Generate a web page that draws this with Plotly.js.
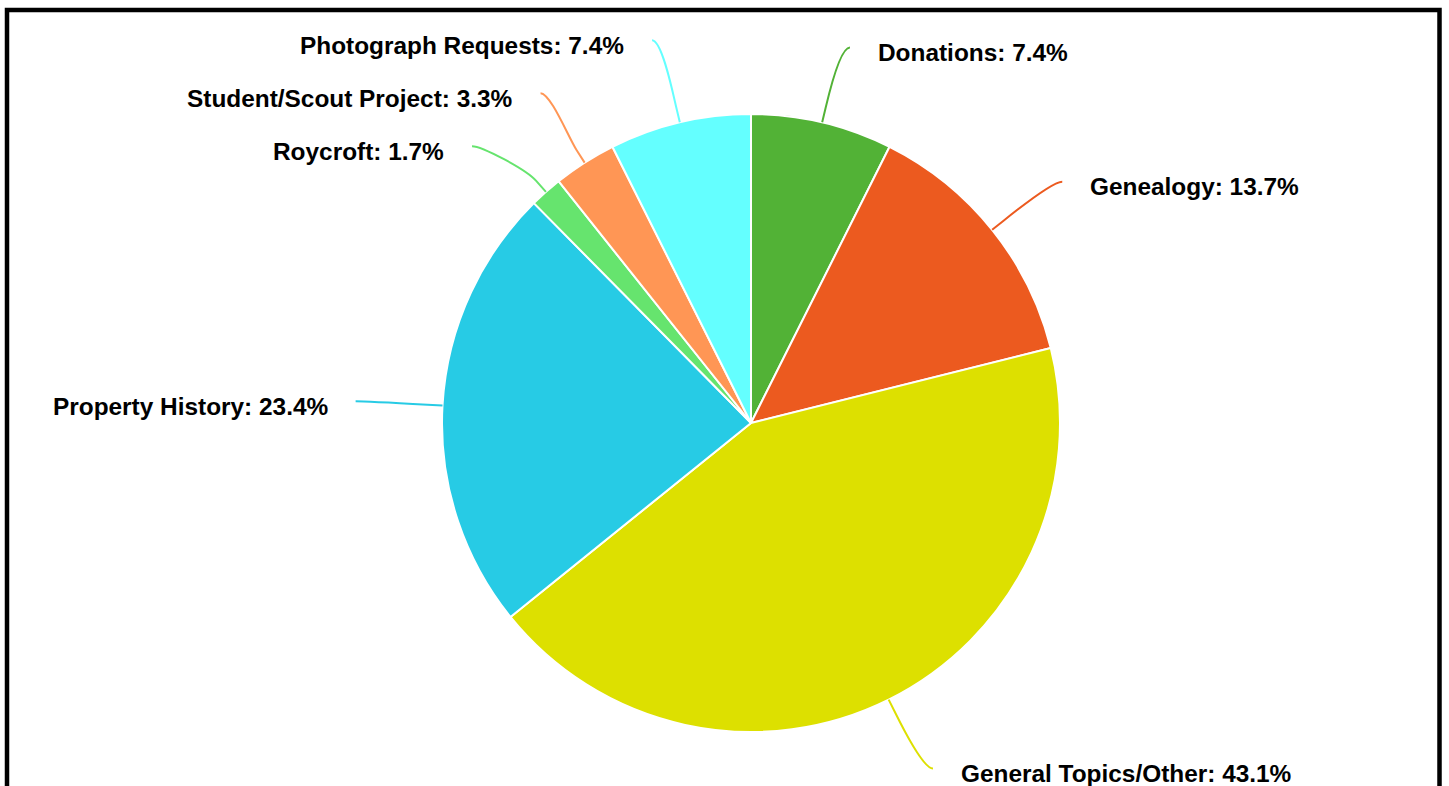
<!DOCTYPE html>
<html>
<head>
<meta charset="utf-8">
<script src="https://cdn.plot.ly/plotly-3.0.1.min.js"></script>
<style>
  html, body { margin: 0; padding: 0; background: #ffffff; }
  #chart { width: 1449px; height: 786px; }
</style>
</head>
<body>
<div id="chart"></div>
<script>
// ---- Data ----
const categories = ["Donations", "Genealogy", "General Topics/Other", "Property History", "Roycroft", "Student/Scout Project", "Photograph Requests"];
const shares = [7.4, 13.7, 43.1, 23.4, 1.7, 3.3, 7.4];
const sliceColors = ["#52b236", "#ec5a1f", "#dde000", "#27cbe5", "#66e46e", "#ff9655", "#64ffff"];

// ---- Layout geometry (pixels) ----
const W = 1449, H = 786;
const CX = 751, CY = 423, R = 309;       // pie centre and radius
const LR = 386;                           // label anchor radius
const BREAK = R + 15;                     // connector break radius
const PAD = 10, GAP = 26, SPACING = 53;   // label spacing rules
const FONT = 'Liberation Sans, Arial, Helvetica, sans-serif';

// mid angles (clockwise from 12 o'clock), computed from the data
const total = shares.reduce((a, b) => a + b, 0);
let cum = 0;
const items = shares.map((v, i) => {
  const a0 = cum / total * 2 * Math.PI;
  cum += v;
  const a1 = cum / total * 2 * Math.PI;
  const mid = (a0 + a1) / 2;
  const s = Math.sin(mid), c = Math.cos(mid);
  return {
    i, mid, s, c,
    right: s >= 0,
    natural: CY - LR * c,
    touch: [CX + R * s, CY - R * c],
    brk: [CX + BREAK * s, CY - BREAK * c]
  };
});

// distribute labels on each side so they do not overlap
function distribute(list) {
  list.sort((a, b) => a.natural - b.natural);
  let groups = [];
  list.forEach(it => {
    groups.push({ items: [it] });
    while (groups.length > 1) {
      const g = groups[groups.length - 1], p = groups[groups.length - 2];
      const place = gr => {
        const m = gr.items.reduce((a, b) => a + b.natural, 0) / gr.items.length;
        return m - (gr.items.length - 1) * SPACING / 2;
      };
      const ps = place(p), gs = place(g);
      if (ps + p.items.length * SPACING > gs) {
        p.items = p.items.concat(g.items);
        groups.pop();
      } else break;
    }
  });
  groups.forEach(gr => {
    const m = gr.items.reduce((a, b) => a + b.natural, 0) / gr.items.length;
    const start = m - (gr.items.length - 1) * SPACING / 2;
    gr.items.forEach((it, k) => { it.y = start + k * SPACING; });
  });
}
distribute(items.filter(d => d.right));
distribute(items.filter(d => !d.right));

const shapes = [];
const annotations = [];
items.forEach(it => {
  const yForX = Math.abs(it.y - CY) > LR * 0.95 ? it.natural : it.y;
  const dy = Math.max(-LR, Math.min(LR, yForX - CY));
  const dx = Math.sqrt(LR * LR - dy * dy) + PAD;
  const sign = it.right ? 1 : -1;
  const lx = CX + sign * dx, ly = it.y;
  const c1x = lx - sign * PAD;
  const c2 = [2 * it.brk[0] - it.touch[0], 2 * it.brk[1] - it.touch[1]];
  shapes.push({
    type: 'path', xref: 'x', yref: 'y', layer: 'above',
    path: `M ${lx} ${ly} C ${c1x} ${ly} ${c2[0]} ${c2[1]} ${it.brk[0]} ${it.brk[1]} L ${it.touch[0]} ${it.touch[1]}`,
    line: { color: sliceColors[it.i], width: 2 }
  });
  annotations.push({
    xref: 'x', yref: 'y',
    x: lx + sign * GAP, y: ly + 5,
    xanchor: it.right ? 'left' : 'right', yanchor: 'middle',
    text: '<b>' + categories[it.i] + ': ' + shares[it.i].toFixed(1) + '%</b>',
    showarrow: false,
    font: { family: FONT, size: 24.4, color: '#000000' }
  });
});

// frame around the chart
shapes.push({
  type: 'rect', xref: 'x', yref: 'y', layer: 'above',
  x0: 7, x1: 1439.5, y0: 10, y1: 900,
  line: { color: '#000000', width: 4.5 }, fillcolor: 'rgba(0,0,0,0)'
});

const data = [
  { type: 'scatter', x: [], y: [], showlegend: false, hoverinfo: 'skip' },
  {
    type: 'pie',
    labels: categories,
    values: shares,
    sort: false,
    direction: 'clockwise',
    rotation: 0,
    textinfo: 'none',
    hoverinfo: 'label+percent',
    showlegend: false,
    marker: { colors: sliceColors, line: { color: '#ffffff', width: 2 } },
    domain: { x: [(CX - R) / W, (CX + R) / W], y: [1 - (CY + R) / H, 1 - (CY - R) / H] }
  }
];

const layout = {
  width: W, height: H,
  margin: { l: 0, r: 0, t: 0, b: 0 },
  paper_bgcolor: '#ffffff', plot_bgcolor: 'rgba(0,0,0,0)',
  xaxis: { range: [0, W], visible: false, fixedrange: true, domain: [0, 1] },
  yaxis: { range: [H, 0], visible: false, fixedrange: true, domain: [0, 1] },
  showlegend: false,
  shapes, annotations,
  font: { family: FONT }
};

Plotly.newPlot('chart', data, layout, { displayModeBar: false, staticPlot: true });
</script>
</body>
</html>
